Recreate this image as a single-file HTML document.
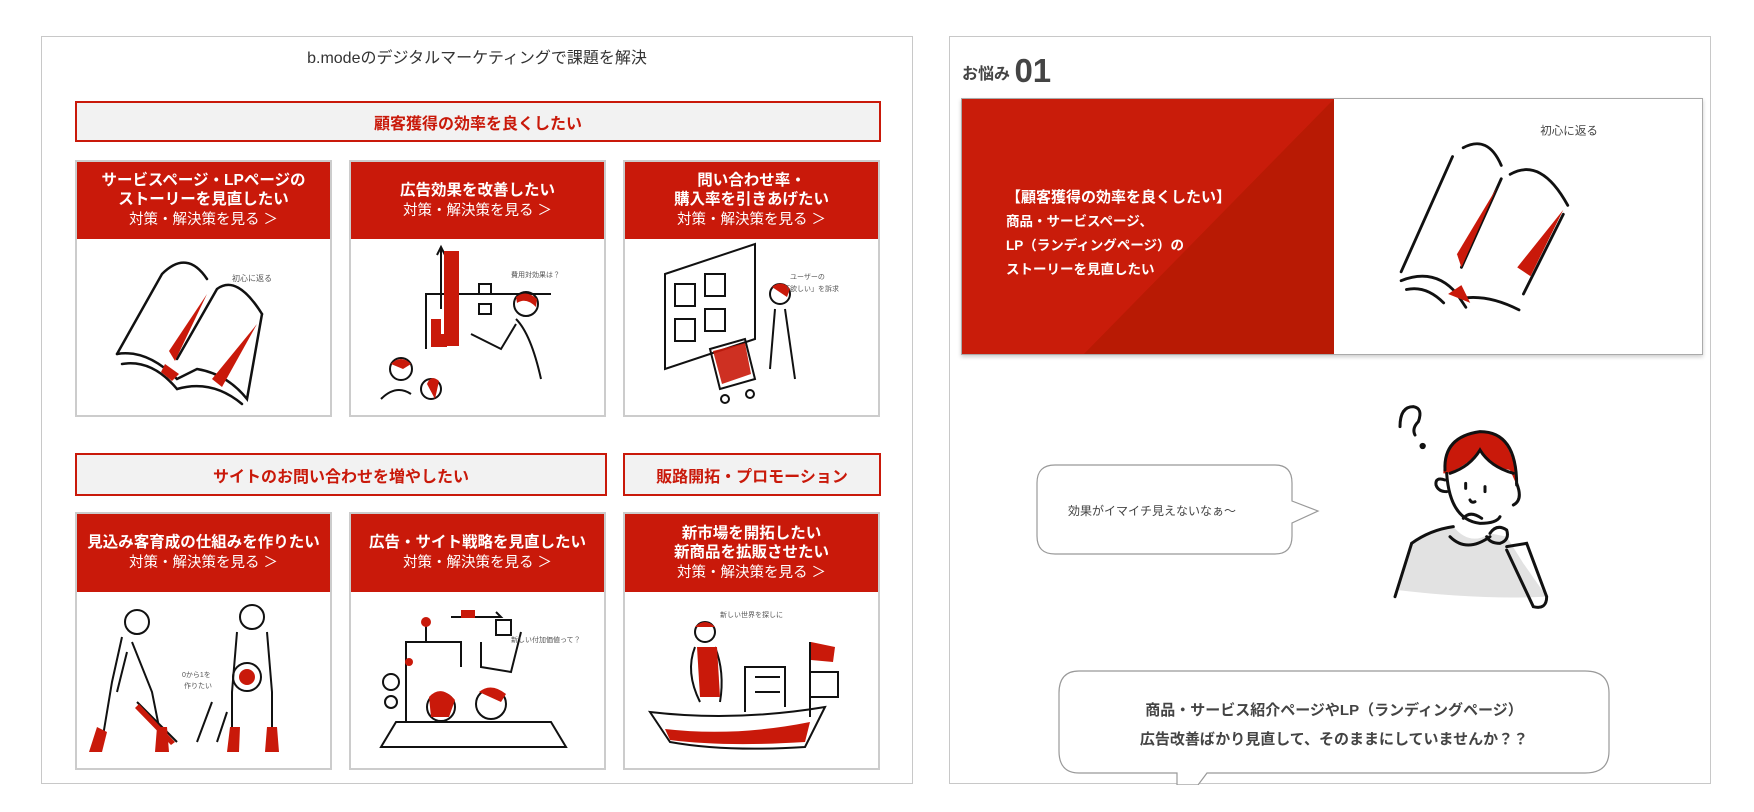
<!DOCTYPE html>
<html><head><meta charset="utf-8"><style>
*{margin:0;padding:0;box-sizing:border-box}
body{width:1754px;height:812px;background:#fff;position:relative;overflow:hidden;font-family:"Liberation Sans","Noto Sans CJK JP",sans-serif;color:#333}
.a{position:absolute}
.panel{border:1px solid #c8c8c8;background:#fff}
.ban{border:2px solid #c9190a;background:#f2f2f2;color:#c9190a;font-weight:bold;font-size:16px;display:flex;align-items:center;justify-content:center}
.card{border:2px solid #ccc;background:#fff}
.hd{position:absolute;left:0;top:0;right:0;background:#c9190a;color:#fff;text-align:center;display:flex;flex-direction:column;justify-content:center;font-size:15px;line-height:19px}
.hd b{font-size:15.5px}
.hd span{font-size:14.5px;margin-top:2px}
.ill{position:absolute;left:0;right:0;bottom:0}
</style></head><body>

<div class="a panel" style="left:41px;top:36px;width:872px;height:748px"></div>
<div class="a" style="left:41px;top:44px;width:872px;text-align:center;font-size:16px;color:#333">b.modeのデジタルマーケティングで課題を解決</div>

<div class="a ban" style="left:75px;top:101px;width:806px;height:41px">顧客獲得の効率を良くしたい</div>

<!-- row1 cards -->
<div class="a card" style="left:75px;top:160px;width:257px;height:257px">
 <div class="hd" style="height:77px"><b>サービスページ・LPページの<br>ストーリーを見直したい</b><span>対策・解決策を見る ＞</span></div>
 <svg class="ill" width="253" height="176" viewBox="0 0 253 176"><g fill="none" stroke="#111" stroke-width="2.5" stroke-linecap="round">
 <path d="M40 115 L85 35 Q110 10 130 40"/><path d="M100 120 L140 50 Q160 35 185 75"/><path d="M40 115 Q70 110 100 140 L120 130 Q150 135 170 160 L185 75"/><path d="M45 125 Q75 120 100 150"/><path d="M100 150 Q135 140 165 165"/></g>
 <path d="M92 112 L130 55 L98 122Z" fill="#c9190a"/><path d="M135 140 L180 85 L145 148Z" fill="#c9190a"/><path d="M88 125 L102 135 L95 142 L84 133Z" fill="#c9190a"/>
 <text x="155" y="42" font-size="8" fill="#555">初心に返る</text></svg>
</div>
<div class="a card" style="left:349px;top:160px;width:257px;height:257px">
 <div class="hd" style="height:77px"><b>広告効果を改善したい</b><span>対策・解決策を見る ＞</span></div>
 <svg class="ill" width="253" height="176" viewBox="0 0 253 176"><g fill="none" stroke="#111" stroke-width="2">
 <path d="M75 110 V55 H200"/><path d="M90 70 V10 M86 16 L90 8 L94 16"/><rect x="128" y="45" width="12" height="10"/><rect x="128" y="65" width="12" height="10"/>
 <circle cx="175" cy="65" r="12"/><path d="M165 80 Q180 95 190 140 M165 85 L150 110 L120 95"/><circle cx="50" cy="130" r="11"/><circle cx="80" cy="150" r="10"/><path d="M30 160 Q45 145 60 155"/></g>
 <rect x="93" y="12" width="15" height="95" fill="#c9190a"/><rect x="80" y="80" width="10" height="28" fill="#c9190a"/><rect x="86" y="95" width="10" height="13" fill="#c9190a"/>
 <path d="M165 58 Q175 50 186 60 L185 68 Q175 58 166 64Z" fill="#c9190a"/><path d="M40 125 Q50 115 60 125 L52 130Z" fill="#c9190a"/><path d="M76 145 Q80 135 88 142 L84 160Z" fill="#c9190a"/>
 <text x="160" y="38" font-size="7" fill="#555">費用対効果は？</text></svg>
</div>
<div class="a card" style="left:623px;top:160px;width:257px;height:257px">
 <div class="hd" style="height:77px"><b>問い合わせ率・<br>購入率を引きあげたい</b><span>対策・解決策を見る ＞</span></div>
 <svg class="ill" width="253" height="176" viewBox="0 0 253 176"><g fill="none" stroke="#111" stroke-width="2">
 <path d="M40 35 L130 5 V100 L40 130Z"/><rect x="50" y="45" width="20" height="22"/><rect x="80" y="35" width="20" height="22"/><rect x="50" y="80" width="20" height="22"/><rect x="80" y="70" width="20" height="22"/>
 <circle cx="155" cy="55" r="10"/><path d="M150 70 L145 130 M160 70 L170 140"/><path d="M85 110 L120 100 L130 140 L95 150Z"/><circle cx="100" cy="160" r="4"/><circle cx="125" cy="155" r="4"/></g>
 <path d="M88 112 L120 104 L126 135 L97 145Z" fill="#c9190a" opacity=".9"/><path d="M147 48 Q157 40 165 50 L162 58Z" fill="#c9190a"/>
 <text x="165" y="40" font-size="7" fill="#555">ユーザーの</text><text x="158" y="52" font-size="7" fill="#555">「欲しい」を訴求</text></svg>
</div>

<div class="a ban" style="left:75px;top:453px;width:532px;height:43px">サイトのお問い合わせを増やしたい</div>
<div class="a ban" style="left:623px;top:453px;width:258px;height:43px">販路開拓・プロモーション</div>

<div class="a card" style="left:75px;top:512px;width:257px;height:258px">
 <div class="hd" style="height:78px"><b>見込み客育成の仕組みを作りたい</b><span>対策・解決策を見る ＞</span></div>
 <svg class="ill" width="253" height="176" viewBox="0 0 253 176"><g fill="none" stroke="#111" stroke-width="2">
 <circle cx="60" cy="30" r="12"/><path d="M45 45 L35 90 L25 150 M55 50 L75 100 L85 150 M50 60 L40 100"/><path d="M60 110 L100 150"/>
 <circle cx="175" cy="25" r="12"/><path d="M160 40 L155 100 V150 M190 40 L195 100 V150"/><circle cx="170" cy="85" r="14"/><path d="M120 150 L135 110 M140 150 L150 120"/></g>
 <path d="M20 135 L30 140 L25 160 L12 160Z M80 135 L90 135 L92 160 L78 160Z M153 135 L163 135 L162 160 L150 160Z M190 135 L200 135 L202 160 L188 160Z" fill="#c9190a"/>
 <path d="M62 112 L98 150 L94 153 L58 116Z" fill="#c9190a"/><circle cx="170" cy="85" r="8" fill="#c9190a"/>
 <text x="105" y="85" font-size="7" fill="#555">0から1を</text><text x="107" y="96" font-size="7" fill="#555">作りたい</text></svg>
</div>
<div class="a card" style="left:349px;top:512px;width:257px;height:258px">
 <div class="hd" style="height:78px"><b>広告・サイト戦略を見直したい</b><span>対策・解決策を見る ＞</span></div>
 <svg class="ill" width="253" height="176" viewBox="0 0 253 176"><g fill="none" stroke="#111" stroke-width="2">
 <path d="M30 155 L45 130 H200 L215 155Z"/><path d="M55 130 V50 H110 V75"/><path d="M75 30 V50 M100 25 H150 L145 20"/><path d="M130 50 V75 L160 80 L170 40"/>
 <circle cx="90" cy="115" r="14"/><circle cx="140" cy="112" r="15"/><circle cx="40" cy="90" r="8"/><circle cx="40" cy="110" r="6"/><rect x="145" y="28" width="15" height="15"/></g>
 <path d="M78 105 Q90 92 104 108 L98 125 L80 125Z M128 100 Q140 90 155 102 L150 110Z" fill="#c9190a"/><circle cx="75" cy="30" r="5" fill="#c9190a"/><rect x="110" y="18" width="14" height="8" fill="#c9190a"/><circle cx="58" cy="70" r="4" fill="#c9190a"/>
 <text x="160" y="50" font-size="7" fill="#555">新しい付加価値って？</text></svg>
</div>
<div class="a card" style="left:623px;top:512px;width:257px;height:258px">
 <div class="hd" style="height:78px"><b>新市場を開拓したい<br>新商品を拡販させたい</b><span>対策・解決策を見る ＞</span></div>
 <svg class="ill" width="253" height="176" viewBox="0 0 253 176"><g fill="none" stroke="#111" stroke-width="2">
 <path d="M25 120 Q110 130 200 115 L180 155 Q100 160 45 150Z"/><path d="M120 120 V75 H160 V115 M130 85 H155 M130 100 H155"/><path d="M185 125 V50"/>
 <circle cx="80" cy="40" r="10"/><path d="M70 55 Q60 80 75 110 M90 55 Q100 80 95 110"/><rect x="185" y="80" width="28" height="25"/></g>
 <path d="M186 50 L210 55 L208 70 L186 68Z" fill="#c9190a"/><path d="M72 55 L92 55 L95 105 L75 105Z" fill="#c9190a"/><path d="M70 35 Q80 25 90 35Z" fill="#c9190a"/><path d="M40 137 Q110 145 185 130 L180 150 Q100 155 45 148Z" fill="#c9190a"/>
 <text x="95" y="25" font-size="7" fill="#555">新しい世界を探しに</text></svg>
</div>

<!-- right panel -->
<div class="a panel" style="left:949px;top:36px;width:762px;height:748px"></div>
<div class="a" style="left:962px;top:52px;font-size:16px;color:#444;font-weight:bold">お悩み <span style="font-size:33px;vertical-align:-3px;color:#444">01</span></div>

<div class="a" style="left:961px;top:98px;width:742px;height:257px;border:1px solid #aaa;box-shadow:0 2px 4px rgba(0,0,0,.2);overflow:hidden;background:#fff">
 <svg class="a" style="left:0;top:0" width="372" height="257"><rect width="372" height="257" fill="#c91c0a"/><path d="M372 0 L372 257 L120 257Z" fill="#b81a04"/></svg>
 <div class="a" style="left:44px;top:87px;color:#fff;font-weight:bold;font-size:13.5px;line-height:24px"><span style="font-size:15px">【顧客獲得の効率を良くしたい】</span><br>商品・サービスページ、<br>LP（ランディングページ）の<br>ストーリーを見直したい</div>
 <svg class="a" style="left:372px;top:0" width="370" height="257" viewBox="10 20 370 290"><g fill="none" stroke="#111" stroke-width="3.2" stroke-linecap="round">
 <path d="M62 215 L120 85"/><path d="M132 75 Q160 60 175 95"/><path d="M175 110 L130 210"/><path d="M185 105 Q220 85 250 140"/><path d="M245 150 L200 240"/>
 <path d="M62 225 Q100 210 125 240 L135 255"/><path d="M130 245 Q160 240 195 258"/><path d="M68 235 Q90 230 110 250"/></g>
 <path d="M130 210 L170 120 L125 195Z" fill="#c9190a"/><path d="M193 210 L245 145 L208 220Z" fill="#c9190a"/><path d="M115 240 L130 230 L140 250Z" fill="#c9190a"/>
 <text x="219" y="60" font-size="13" fill="#444">初心に返る</text></svg>
</div>

<!-- bubble 1 -->
<svg class="a" style="left:1035px;top:463px" width="290" height="95" viewBox="0 0 290 95">
<path d="M20 2 H240 Q257 2 257 20 V38 L283 48 L257 60 V73 Q257 91 240 91 H20 Q2 91 2 73 V20 Q2 2 20 2Z" fill="#fff" stroke="#999" stroke-width="1.2"/>
<text x="33" y="52" font-size="12" fill="#444" font-family="Liberation Sans, Noto Sans CJK JP, sans-serif">効果がイマイチ見えないなぁ〜</text></svg>

<!-- person -->
<svg class="a" style="left:1380px;top:390px" width="200" height="230" viewBox="0 0 600 690">
<path d="M50 600 L90 460 Q150 420 220 410 Q270 470 330 430 L380 440 L430 520 L500 620 Q300 630 50 600Z" fill="#e2e2e2"/>
<path d="M190 250 Q190 140 300 125 Q400 125 410 285 L390 240 Q330 230 300 180 Q260 230 200 250Z" fill="#c9190a"/>
<g fill="none" stroke="#111" stroke-width="9" stroke-linecap="round">
<path d="M60 110 Q60 50 100 50 Q130 55 115 95 Q95 115 105 135"/><circle cx="128" cy="168" r="5"/>
<path d="M195 240 Q190 140 300 125 Q410 125 410 285"/><path d="M200 250 Q210 390 300 400 Q350 400 360 380"/><path d="M410 280 Q430 330 400 345"/>
<path d="M195 270 Q165 260 168 285 Q175 305 200 305"/><path d="M210 250 Q270 230 300 180 Q330 230 400 250"/>
<path d="M257 280 V295 M315 290 V305 M270 330 Q275 340 285 335"/><path d="M250 385 Q270 360 305 385"/>
<path d="M95 460 Q150 420 220 410 M210 440 Q260 490 330 440"/><path d="M95 460 L45 620"/><path d="M330 430 Q350 400 380 420 Q390 450 360 460 Q330 460 320 440"/>
<path d="M380 470 L440 460 L500 620 Q500 660 460 650 L380 480"/></g></svg>

<!-- bubble 2 -->
<svg class="a" style="left:1057px;top:669px" width="556" height="116" viewBox="0 0 556 116">
<path d="M22 2 H528 Q552 2 552 24 V82 Q552 104 528 104 H150 L141 116 H120 V104 H22 Q2 104 2 82 V24 Q2 2 22 2Z" fill="#fff" stroke="#999" stroke-width="1.2"/></svg>
<div class="a" style="left:1059px;top:696px;width:550px;text-align:center;font-size:15px;font-weight:bold;color:#444;line-height:29px">商品・サービス紹介ページやLP（ランディングページ）<br>広告改善ばかり見直して、そのままにしていませんか？？</div>

</body></html>
